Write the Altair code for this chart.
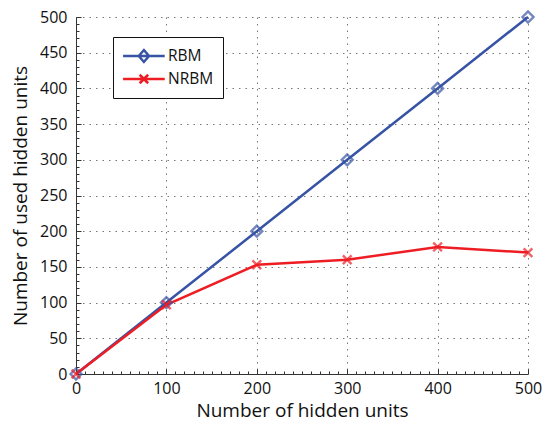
import altair as alt
import pandas as pd

# Hidden-unit budget and how many of them end up in use
hidden_units = [0, 100, 200, 300, 400, 500]
rbm_used = [0, 100, 200, 300, 400, 500]
nrbm_used = [0, 97, 153, 160, 178, 170]

series_names = ["RBM", "NRBM"]
series_colors = ["#3753a5", "#ee1d23"]
series_markers = ["diamond", "M-1,-1L1,1M-1,1L1,-1"]
series_marker_sizes = [120, 75]

x_major = [0, 100, 200, 300, 400, 500]
y_major = [0, 50, 100, 150, 200, 250, 300, 350, 400, 450, 500]
minor_step = 10

W, H = 452, 357
FONT = "Open Sans"

rows = []
for name, vals in zip(series_names, [rbm_used, nrbm_used]):
    for u, v in zip(hidden_units, vals):
        rows.append({"series": name, "units": u, "used": v})
df = pd.DataFrame(rows)

x_scale = alt.Scale(domain=[0, 500], nice=False, zero=False)
y_scale = alt.Scale(domain=[0, 500], nice=False, zero=False)
color_scale = alt.Scale(domain=series_names, range=series_colors)

grid_style = dict(grid=True, gridColor="#777", gridDash=[1.5, 5], gridWidth=1)

# Legend glyph: a line segment with the series marker in the middle
# (path units are half the symbol's nominal width, 8.5 px here)
legend_shape = (
    "datum.value === 'RBM' ? "
    "'M-1.05,0H3.85M1.4,-0.7L2,0L1.4,0.7L0.8,0Z' : "
    "'M-1.05,0H3.85M0.9,-0.5L1.9,0.5M0.9,0.5L1.9,-0.5'"
)

base = alt.Chart(df)

lines = base.mark_line(strokeWidth=2.5).encode(
    x=alt.X(
        "units:Q",
        scale=x_scale,
        axis=alt.Axis(
            orient="bottom", values=x_major, title="Number of hidden units",
            tickSize=0, labelPadding=6, titlePadding=5, labelFlush=False,
            **grid_style,
        ),
    ),
    y=alt.Y(
        "used:Q",
        scale=y_scale,
        axis=alt.Axis(
            orient="left", values=y_major, title="Number of used hidden units",
            tickSize=0, labelPadding=9, titlePadding=9, labelFlush=False,
            **grid_style,
        ),
    ),
    color=alt.Color(
        "series:N",
        scale=color_scale,
        sort=series_names,
        legend=alt.Legend(
            orient="none", legendX=37, legendY=20, title=None,
            strokeColor="#111", fillColor="white", padding=9,
            rowPadding=2, symbolOffset=0, labelOffset=26,
            labelFontSize=15.5, labelFont=FONT, labelColor="#111",
            symbolSize=289, symbolStrokeWidth=2.5,
            symbolFillColor="transparent",
            symbolType=alt.ExprRef(legend_shape),
        ),
    ),
)

# Inward-pointing major/minor ticks along the left and bottom edges
minor_x = list(range(0, 501, minor_step))
minor_y = list(range(0, 501, minor_step))
inner_x_axis = alt.Axis(
    orient="top", offset=-H, values=minor_x, labels=False, domain=False,
    grid=False, title=None, tickColor="#333",
    tickSize={"condition": {"test": "datum.value % 100 === 0", "value": 5}, "value": 3},
)
inner_y_axis = alt.Axis(
    orient="right", offset=-W, values=minor_y, labels=False, domain=False,
    grid=False, title=None, tickColor="#333",
    tickSize={"condition": {"test": "datum.value % 50 === 0", "value": 5}, "value": 3},
)

marker_layers = []
for i, (name, shape, size) in enumerate(zip(series_names, series_markers, series_marker_sizes)):
    enc = dict(
        stroke=alt.Stroke("series:N", scale=color_scale, legend=None),
    )
    if i == 0:
        enc["x"] = alt.X("units:Q", scale=x_scale, axis=inner_x_axis)
        enc["y"] = alt.Y("used:Q", scale=y_scale, axis=inner_y_axis)
    else:
        enc["x"] = alt.X("units:Q", scale=x_scale, axis=None)
        enc["y"] = alt.Y("used:Q", scale=y_scale, axis=None)
    layer = (
        base.mark_point(filled=False, strokeWidth=2.4, shape=shape, size=size)
        .encode(**enc)
        .transform_filter(alt.datum.series == name)
    )
    marker_layers.append(layer)

chart = (
    alt.layer(lines, *marker_layers)
    .properties(
        width=W,
        height=H,
        autosize=alt.AutoSizeParams(type="none"),
        padding={"left": 76, "top": 17, "right": 17, "bottom": 50},
        background="white",
    )
    .configure_view(stroke=None)
    .configure_axis(
        labelFont=FONT, labelFontSize=16, labelColor="#111",
        titleFont=FONT, titleFontSize=19, titleColor="#111", titleFontWeight="normal",
        domainColor="#333", domainWidth=1,
    )
)

chart.save("out.html", embed_options={"renderer": "svg", "actions": False})
